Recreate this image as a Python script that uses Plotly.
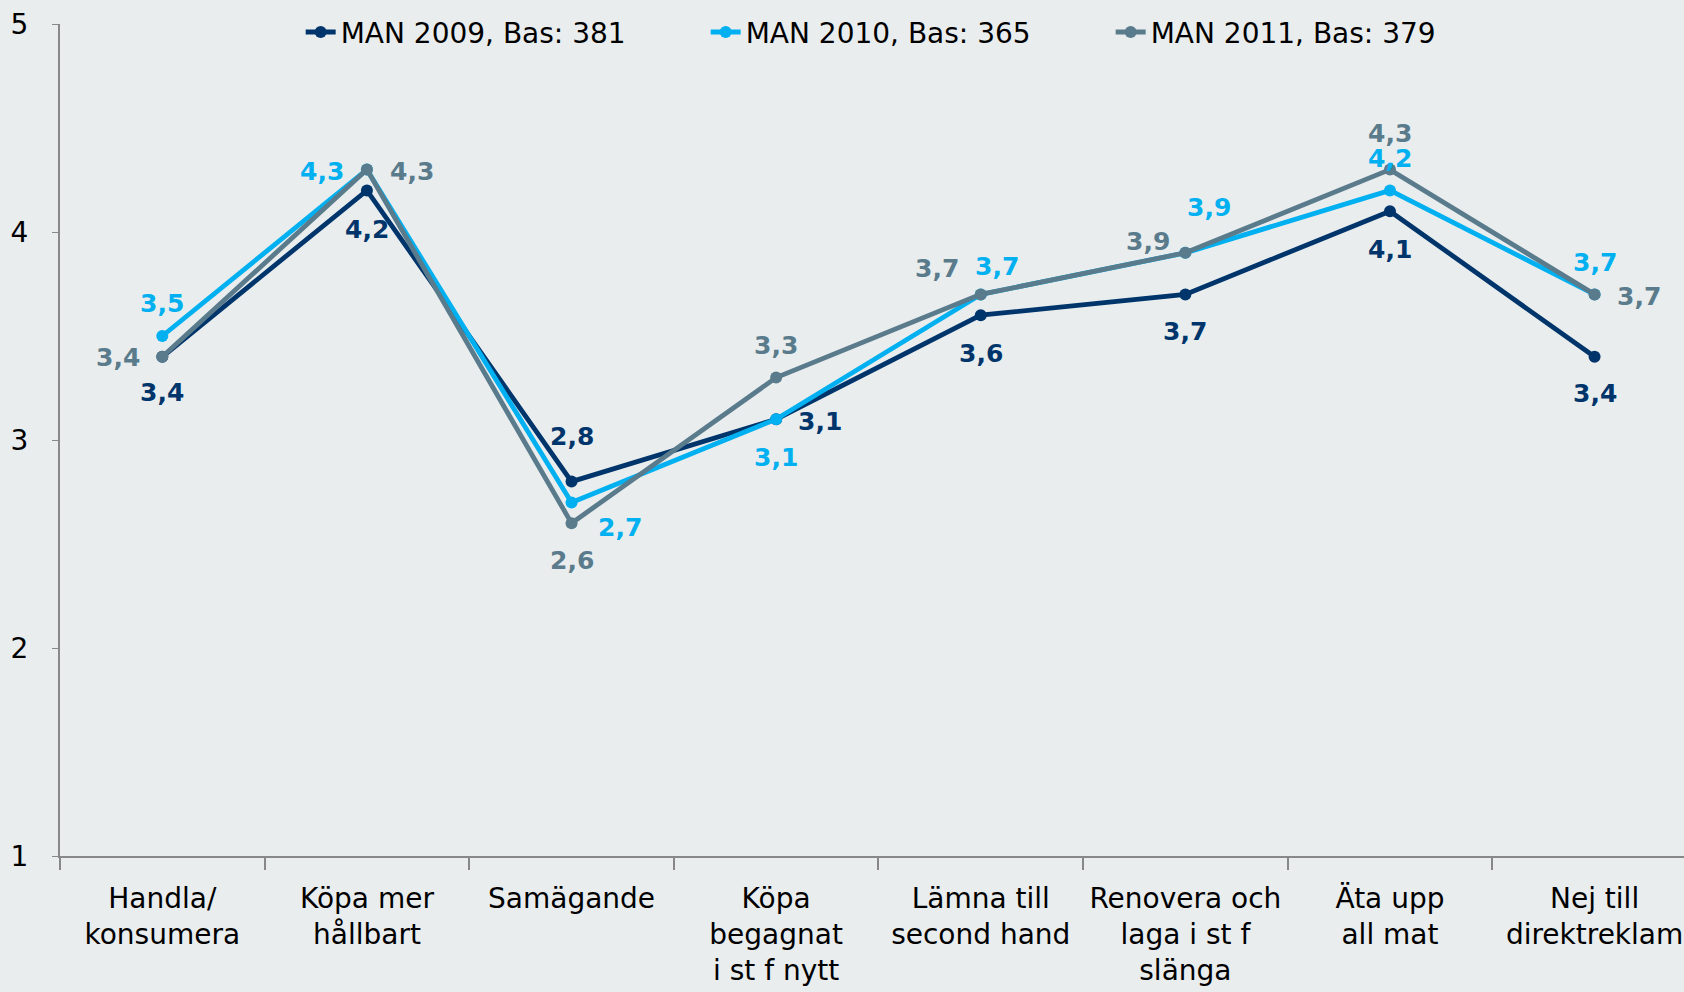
import plotly.graph_objects as go

categories = ["Handla/<br>konsumera", "Köpa mer<br>hållbart", "Samägande",
              "Köpa<br>begagnat<br>i st f nytt", "Lämna till<br>second hand",
              "Renovera och<br>laga i st f<br>slänga", "Äta upp<br>all mat",
              "Nej till<br>direktreklam"]
series_names = ["MAN 2009, Bas: 381", "MAN 2010, Bas: 365", "MAN 2011, Bas: 379"]
v2009 = [3.4, 4.2, 2.8, 3.1, 3.6, 3.7, 4.1, 3.4]
v2010 = [3.5, 4.3, 2.7, 3.1, 3.7, 3.9, 4.2, 3.7]
v2011 = [3.4, 4.3, 2.6, 3.3, 3.7, 3.9, 4.3, 3.7]
y_ticks = [1, 2, 3, 4, 5]

colors = ["#00356B", "#00B0F0", "#5A7B8B"]
# label offsets in pixels (dx, dy; +dy = down on screen)
offsets = [
    [(0, 36), (0, 39), (0, -45), (44, 2), (0, 38), (0, 37), (0, 38), (0, 37)],
    [(0, -33), (-45, 2), (48, 25), (0, 38), (16, -28), (24, -45), (0, -32), (0, -32)],
    [(-44, 1), (45, 2), (0, 37), (0, -32), (-44, -26), (-37, -11), (0, -36), (44, 2)],
]

all_vals = [v2009, v2010, v2011]
fig = go.Figure()
for name, vals, col in zip(series_names, all_vals, colors):
    fig.add_trace(go.Scatter(x=categories, y=vals, name=name, mode="lines+markers",
                             line=dict(color=col, width=4.8),
                             marker=dict(color=col, size=12)))

annotations = []
for vals, col, offs in zip(all_vals, colors, offsets):
    for cat, v, (dx, dy) in zip(categories, vals, offs):
        annotations.append(dict(x=cat, y=v, xref="x", yref="y",
                                text=f"{v:.1f}".replace(".", ","),
                                showarrow=False, xshift=dx, yshift=-dy,
                                font=dict(family="DejaVu Sans", size=25, color=col,
                                          weight="bold")))

font_fam = "DejaVu Sans, Verdana, sans-serif"
fig.update_layout(
    width=1684, height=992,
    paper_bgcolor="#E9EDEE", plot_bgcolor="#E9EDEE",
    margin=dict(l=60, r=0, t=24, b=136),
    font=dict(family=font_fam, size=28, color="#000000"),
    showlegend=True,
    legend=dict(orientation="h", x=0.1482, xanchor="left", y=0.99, yanchor="middle",
                bgcolor="rgba(0,0,0,0)", font=dict(size=28, family=font_fam),
                entrywidth=360, entrywidthmode="pixels"),
    annotations=annotations,
    xaxis=dict(type="category", range=[-0.5, 7.437], tickson="boundaries",
               showgrid=False, zeroline=False, showline=True, linecolor="#888888",
               linewidth=2, ticks="outside", ticklen=12, tickcolor="#888888",
               tickwidth=1.5, ticklabelstandoff=16,
               tickfont=dict(size=28, family=font_fam)),
    yaxis=dict(range=[1, 5], tickvals=y_ticks, showgrid=False, zeroline=False,
               showline=True, linecolor="#888888", linewidth=2, ticks="outside",
               ticklen=6, tickcolor="#888888", ticklabelstandoff=18,
               tickfont=dict(size=28, family=font_fam)),
)
fig.write_html("out.html", config={"displayModeBar": False})

with open("out.html", encoding="utf-8") as f:
    html = f.read()
html = html.replace("<head>", "<head><style>html,body{margin:0;padding:0;overflow:hidden;}</style>", 1)
with open("out.html", "w", encoding="utf-8") as f:
    f.write(html)
